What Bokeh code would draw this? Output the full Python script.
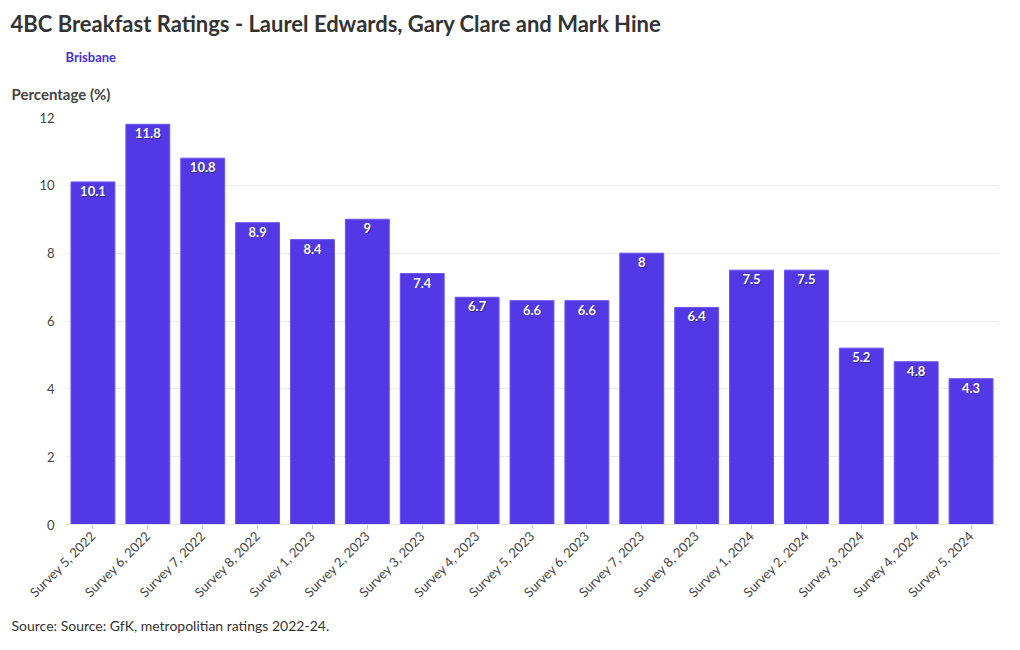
import math
from bokeh.plotting import figure
from bokeh.models import ColumnDataSource, FactorRange, Range1d, FixedTicker, Title
from bokeh.core.properties import value
from bokeh.embed import file_html
from bokeh.resources import INLINE

categories = ["Survey 5, 2022", "Survey 6, 2022", "Survey 7, 2022", "Survey 8, 2022",
              "Survey 1, 2023", "Survey 2, 2023", "Survey 3, 2023", "Survey 4, 2023",
              "Survey 5, 2023", "Survey 6, 2023", "Survey 7, 2023", "Survey 8, 2023",
              "Survey 1, 2024", "Survey 2, 2024", "Survey 3, 2024", "Survey 4, 2024",
              "Survey 5, 2024"]
ratings = [10.1, 11.8, 10.8, 8.9, 8.4, 9, 7.4, 6.7, 6.6, 6.6, 8, 6.4, 7.5, 7.5, 5.2, 4.8, 4.3]
labels = [("%g" % v) for v in ratings]
y_ticks = [0, 2, 4, 6, 8, 10, 12]

FONT = "Lato"
BAR = "#5339e6"

src = ColumnDataSource(dict(cat=categories, val=ratings, lab=labels))

p = figure(width=1004, height=640, x_range=FactorRange(*categories, range_padding=0),
           y_range=Range1d(0, 12), output_backend="svg", toolbar_location=None,
           min_border_left=65, min_border_right=6, min_border_top=116, min_border_bottom=116)
p.outline_line_color = None
p.background_fill_color = "white"

p.vbar(x="cat", top="val", width=0.8, source=src, fill_color=BAR, line_color="#6a55ee", line_width=1)
p.text(x="cat", y="val", text="lab", source=src, text_align="center", text_baseline="top",
       x_offset=0.8, y_offset=4.8, text_color="#1a1a40", text_alpha=0.7, text_font=value(FONT),
       text_font_style="bold", text_font_size="13px")
p.text(x="cat", y="val", text="lab", source=src, text_align="center", text_baseline="top",
       y_offset=4, text_color="white", text_font=value(FONT), text_font_style="bold",
       text_font_size="13px")

p.xgrid.grid_line_color = None
p.ygrid.grid_line_color = "#ececec"
p.ygrid.ticker = FixedTicker(ticks=y_ticks)

p.yaxis.ticker = FixedTicker(ticks=y_ticks)
p.yaxis.axis_line_color = None
p.yaxis.major_tick_line_color = None
p.yaxis.major_tick_out = 0
p.yaxis.major_tick_in = 0
p.yaxis.minor_tick_line_color = None
p.yaxis.major_label_standoff = 11
p.yaxis.major_label_text_font = FONT
p.yaxis.major_label_text_font_size = "13px"
p.yaxis.major_label_text_color = "#444444"

p.xaxis.axis_line_color = "#e6e6e6"
p.xaxis.major_tick_line_color = "#cccccc"
p.xaxis.major_tick_in = 0
p.xaxis.major_tick_out = 5
p.xaxis.minor_tick_line_color = None
p.xaxis.major_label_orientation = math.pi / 4
p.xaxis.major_label_standoff = 4
p.xaxis.major_label_text_font = FONT
p.xaxis.major_label_text_font_size = "13px"
p.xaxis.major_label_text_color = "#444444"

p.add_layout(Title(text="Percentage (%)", align="left", offset=-54, standoff=29,
                   text_font=FONT, text_font_size="15px", text_font_style="bold",
                   text_color="#444444"), "above")
p.add_layout(Title(text="Brisbane", align="left", offset=0, standoff=7,
                   text_font=FONT, text_font_size="13px", text_font_style="bold",
                   text_color="#4a2fd6"), "above")
p.add_layout(Title(text="4BC Breakfast Ratings - Laurel Edwards, Gary Clare and Mark Hine",
                   align="left", offset=-55, standoff=14,
                   text_font=FONT, text_font_size="22px", text_font_style="bold",
                   text_color="#333333"), "above")
p.add_layout(Title(text="Source: Source: GfK, metropolitian ratings 2022-24.", align="left",
                   offset=-54, standoff=12, text_font=FONT, text_font_size="14px",
                   text_font_style="normal", text_color="#333333"), "below")

open("out.html", "w").write(file_html(p, INLINE))
